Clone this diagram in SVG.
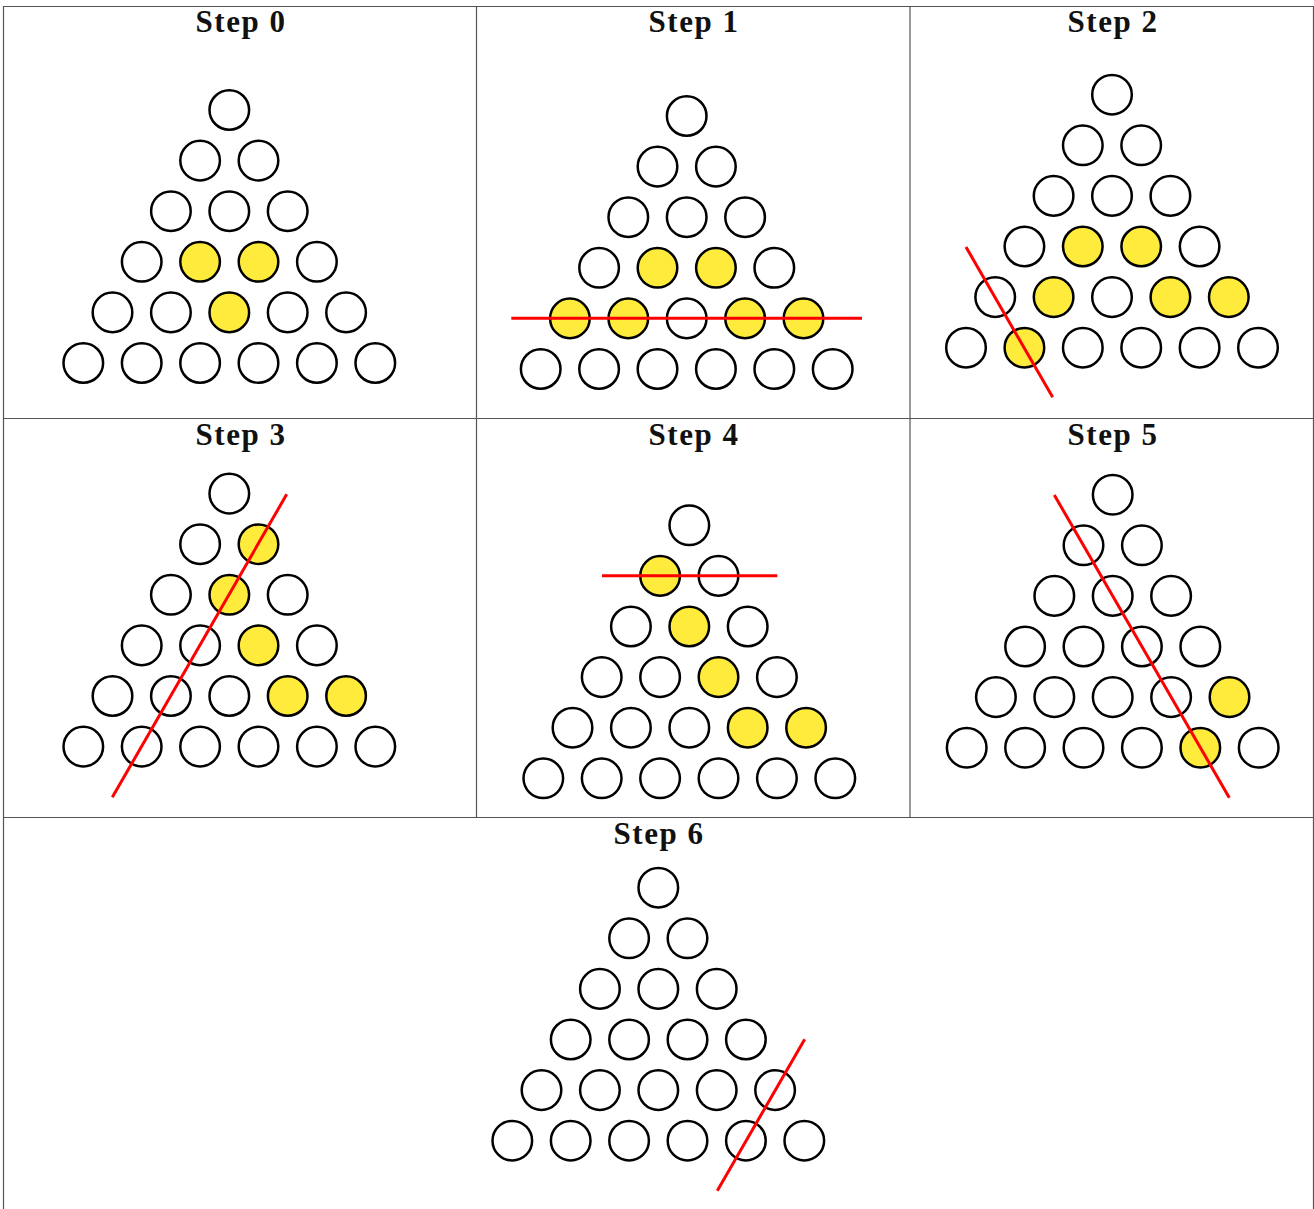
<svg xmlns="http://www.w3.org/2000/svg" width="1314" height="1209" viewBox="0 0 1314 1209">
<style>
.grid{stroke:#555;stroke-width:1.2;fill:none}
.t{font-family:"Liberation Serif","Times New Roman",serif;font-weight:bold;font-size:31px;letter-spacing:1.5px;text-anchor:middle;fill:#111}
circle{fill:#fff;stroke:#000;stroke-width:2.5}
circle.y{fill:#FFEB3B}
.cut{stroke:#ff0000;stroke-width:3;fill:none}
</style>
<rect width="1314" height="1209" fill="#fff"/>
<g id="table" class="grid">
<line x1="3.5" y1="6.5" x2="1313.5" y2="6.5"/>
<line x1="3.5" y1="6" x2="3.5" y2="1209"/>
<line x1="1313.5" y1="6" x2="1313.5" y2="1209"/>
<line x1="3.5" y1="418.5" x2="1313.5" y2="418.5"/>
<line x1="3.5" y1="817.5" x2="1313.5" y2="817.5"/>
<line x1="476.5" y1="6" x2="476.5" y2="817.5"/>
<line x1="910" y1="6" x2="910" y2="817.5"/>
</g>
<g id="step0">
<text class="t" x="241" y="32">Step 0</text>
<circle cx="229.3" cy="110" r="19.8"/>
<circle cx="200.1" cy="160.6" r="19.8"/><circle cx="258.5" cy="160.6" r="19.8"/>
<circle cx="170.9" cy="211.2" r="19.8"/><circle cx="229.3" cy="211.2" r="19.8"/><circle cx="287.7" cy="211.2" r="19.8"/>
<circle cx="141.7" cy="261.8" r="19.8"/><circle class="y" cx="200.1" cy="261.8" r="19.8"/><circle class="y" cx="258.5" cy="261.8" r="19.8"/><circle cx="316.9" cy="261.8" r="19.8"/>
<circle cx="112.5" cy="312.4" r="19.8"/><circle cx="170.9" cy="312.4" r="19.8"/><circle class="y" cx="229.3" cy="312.4" r="19.8"/><circle cx="287.7" cy="312.4" r="19.8"/><circle cx="346.1" cy="312.4" r="19.8"/>
<circle cx="83.3" cy="363" r="19.8"/><circle cx="141.7" cy="363" r="19.8"/><circle cx="200.1" cy="363" r="19.8"/><circle cx="258.5" cy="363" r="19.8"/><circle cx="316.9" cy="363" r="19.8"/><circle cx="375.3" cy="363" r="19.8"/>
</g>
<g id="step1">
<text class="t" x="694" y="32">Step 1</text>
<circle cx="686.7" cy="116" r="19.8"/>
<circle cx="657.5" cy="166.6" r="19.8"/><circle cx="715.9" cy="166.6" r="19.8"/>
<circle cx="628.3" cy="217.2" r="19.8"/><circle cx="686.7" cy="217.2" r="19.8"/><circle cx="745.1" cy="217.2" r="19.8"/>
<circle cx="599.1" cy="267.8" r="19.8"/><circle class="y" cx="657.5" cy="267.8" r="19.8"/><circle class="y" cx="715.9" cy="267.8" r="19.8"/><circle cx="774.3" cy="267.8" r="19.8"/>
<circle class="y" cx="569.9" cy="318.4" r="19.8"/><circle class="y" cx="628.3" cy="318.4" r="19.8"/><circle cx="686.7" cy="318.4" r="19.8"/><circle class="y" cx="745.1" cy="318.4" r="19.8"/><circle class="y" cx="803.5" cy="318.4" r="19.8"/>
<circle cx="540.7" cy="369" r="19.8"/><circle cx="599.1" cy="369" r="19.8"/><circle cx="657.5" cy="369" r="19.8"/><circle cx="715.9" cy="369" r="19.8"/><circle cx="774.3" cy="369" r="19.8"/><circle cx="832.7" cy="369" r="19.8"/>
<line class="cut" x1="511.3" y1="318.3" x2="862" y2="318.3"/>
</g>
<g id="step2">
<text class="t" x="1113" y="32">Step 2</text>
<circle cx="1112" cy="94.7" r="19.8"/>
<circle cx="1082.8" cy="145.3" r="19.8"/><circle cx="1141.2" cy="145.3" r="19.8"/>
<circle cx="1053.6" cy="195.9" r="19.8"/><circle cx="1112" cy="195.9" r="19.8"/><circle cx="1170.4" cy="195.9" r="19.8"/>
<circle cx="1024.4" cy="246.5" r="19.8"/><circle class="y" cx="1082.8" cy="246.5" r="19.8"/><circle class="y" cx="1141.2" cy="246.5" r="19.8"/><circle cx="1199.6" cy="246.5" r="19.8"/>
<circle cx="995.2" cy="297.1" r="19.8"/><circle class="y" cx="1053.6" cy="297.1" r="19.8"/><circle cx="1112" cy="297.1" r="19.8"/><circle class="y" cx="1170.4" cy="297.1" r="19.8"/><circle class="y" cx="1228.8" cy="297.1" r="19.8"/>
<circle cx="966" cy="347.7" r="19.8"/><circle class="y" cx="1024.4" cy="347.7" r="19.8"/><circle cx="1082.8" cy="347.7" r="19.8"/><circle cx="1141.2" cy="347.7" r="19.8"/><circle cx="1199.6" cy="347.7" r="19.8"/><circle cx="1258" cy="347.7" r="19.8"/>
<line class="cut" x1="966" y1="247" x2="1052.7" y2="397.3"/>
</g>
<g id="step3">
<text class="t" x="241" y="445">Step 3</text>
<circle cx="229.3" cy="493.6" r="19.8"/>
<circle cx="200.1" cy="544.2" r="19.8"/><circle class="y" cx="258.5" cy="544.2" r="19.8"/>
<circle cx="170.9" cy="594.8" r="19.8"/><circle class="y" cx="229.3" cy="594.8" r="19.8"/><circle cx="287.7" cy="594.8" r="19.8"/>
<circle cx="141.7" cy="645.4" r="19.8"/><circle cx="200.1" cy="645.4" r="19.8"/><circle class="y" cx="258.5" cy="645.4" r="19.8"/><circle cx="316.9" cy="645.4" r="19.8"/>
<circle cx="112.5" cy="696" r="19.8"/><circle cx="170.9" cy="696" r="19.8"/><circle cx="229.3" cy="696" r="19.8"/><circle class="y" cx="287.7" cy="696" r="19.8"/><circle class="y" cx="346.1" cy="696" r="19.8"/>
<circle cx="83.3" cy="746.6" r="19.8"/><circle cx="141.7" cy="746.6" r="19.8"/><circle cx="200.1" cy="746.6" r="19.8"/><circle cx="258.5" cy="746.6" r="19.8"/><circle cx="316.9" cy="746.6" r="19.8"/><circle cx="375.3" cy="746.6" r="19.8"/>
<line class="cut" x1="286.7" y1="494.3" x2="112.3" y2="797.3"/>
</g>
<g id="step4">
<text class="t" x="694" y="445">Step 4</text>
<circle cx="689.3" cy="525.3" r="19.8"/>
<circle class="y" cx="660.1" cy="575.9" r="19.8"/><circle cx="718.5" cy="575.9" r="19.8"/>
<circle cx="630.9" cy="626.5" r="19.8"/><circle class="y" cx="689.3" cy="626.5" r="19.8"/><circle cx="747.7" cy="626.5" r="19.8"/>
<circle cx="601.7" cy="677.1" r="19.8"/><circle cx="660.1" cy="677.1" r="19.8"/><circle class="y" cx="718.5" cy="677.1" r="19.8"/><circle cx="776.9" cy="677.1" r="19.8"/>
<circle cx="572.5" cy="727.7" r="19.8"/><circle cx="630.9" cy="727.7" r="19.8"/><circle cx="689.3" cy="727.7" r="19.8"/><circle class="y" cx="747.7" cy="727.7" r="19.8"/><circle class="y" cx="806.1" cy="727.7" r="19.8"/>
<circle cx="543.3" cy="778.3" r="19.8"/><circle cx="601.7" cy="778.3" r="19.8"/><circle cx="660.1" cy="778.3" r="19.8"/><circle cx="718.5" cy="778.3" r="19.8"/><circle cx="776.9" cy="778.3" r="19.8"/><circle cx="835.3" cy="778.3" r="19.8"/>
<line class="cut" x1="602" y1="575.7" x2="777.3" y2="575.7"/>
</g>
<g id="step5">
<text class="t" x="1113" y="445">Step 5</text>
<circle cx="1112.7" cy="494.7" r="19.8"/>
<circle cx="1083.5" cy="545.3" r="19.8"/><circle cx="1141.9" cy="545.3" r="19.8"/>
<circle cx="1054.3" cy="595.9" r="19.8"/><circle cx="1112.7" cy="595.9" r="19.8"/><circle cx="1171.1" cy="595.9" r="19.8"/>
<circle cx="1025.1" cy="646.5" r="19.8"/><circle cx="1083.5" cy="646.5" r="19.8"/><circle cx="1141.9" cy="646.5" r="19.8"/><circle cx="1200.3" cy="646.5" r="19.8"/>
<circle cx="995.9" cy="697.1" r="19.8"/><circle cx="1054.3" cy="697.1" r="19.8"/><circle cx="1112.7" cy="697.1" r="19.8"/><circle cx="1171.1" cy="697.1" r="19.8"/><circle class="y" cx="1229.5" cy="697.1" r="19.8"/>
<circle cx="966.7" cy="747.7" r="19.8"/><circle cx="1025.1" cy="747.7" r="19.8"/><circle cx="1083.5" cy="747.7" r="19.8"/><circle cx="1141.9" cy="747.7" r="19.8"/><circle class="y" cx="1200.3" cy="747.7" r="19.8"/><circle cx="1258.7" cy="747.7" r="19.8"/>
<line class="cut" x1="1054.3" y1="495" x2="1229.3" y2="797.7"/>
</g>
<g id="step6">
<text class="t" x="659" y="844">Step 6</text>
<circle cx="658.3" cy="887.7" r="19.8"/>
<circle cx="629.1" cy="938.3" r="19.8"/><circle cx="687.5" cy="938.3" r="19.8"/>
<circle cx="599.9" cy="988.9" r="19.8"/><circle cx="658.3" cy="988.9" r="19.8"/><circle cx="716.7" cy="988.9" r="19.8"/>
<circle cx="570.7" cy="1039.5" r="19.8"/><circle cx="629.1" cy="1039.5" r="19.8"/><circle cx="687.5" cy="1039.5" r="19.8"/><circle cx="745.9" cy="1039.5" r="19.8"/>
<circle cx="541.5" cy="1090.1" r="19.8"/><circle cx="599.9" cy="1090.1" r="19.8"/><circle cx="658.3" cy="1090.1" r="19.8"/><circle cx="716.7" cy="1090.1" r="19.8"/><circle cx="775.1" cy="1090.1" r="19.8"/>
<circle cx="512.3" cy="1140.7" r="19.8"/><circle cx="570.7" cy="1140.7" r="19.8"/><circle cx="629.1" cy="1140.7" r="19.8"/><circle cx="687.5" cy="1140.7" r="19.8"/><circle cx="745.9" cy="1140.7" r="19.8"/><circle cx="804.3" cy="1140.7" r="19.8"/>
<line class="cut" x1="804.7" y1="1039.3" x2="717.3" y2="1190.7"/>
</g>
</svg>
